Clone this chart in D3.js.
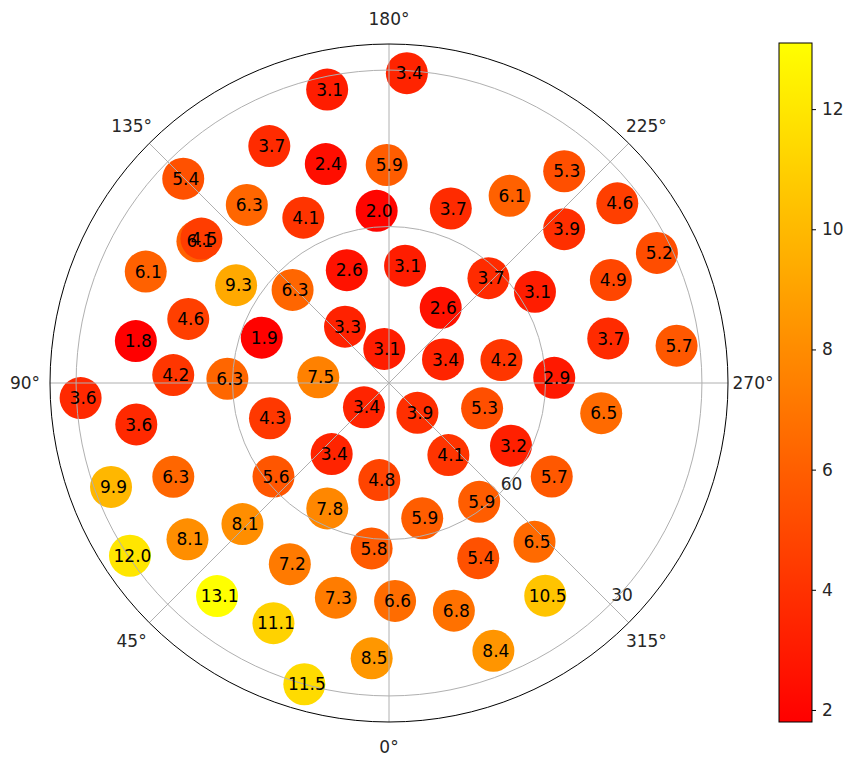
<!DOCTYPE html>
<html>
<head>
<meta charset="utf-8">
<script src="https://cdn.jsdelivr.net/npm/d3@7"></script>
<style>
  html, body { margin: 0; padding: 0; background: #fff; }
  svg { display: block; font-family: "DejaVu Sans", sans-serif; }
</style>
</head>
<body>
<svg id="chart" width="848" height="757"></svg>
<script>
// Sky positions (azimuth in degrees, elevation in degrees) and the measured value at each
const azimuth = [
  183.3, 168.1, 153.2, 163.9, 179.4, 134.8, 141.4, 152.6, 175.9, 199.5,
  212.8, 219.6, 231.8, 228.7, 244.1, 126.5, 127.6, 114.6, 122.6, 159.5,
  187.8, 223.5, 238.0, 245.1, 134.0, 214.5, 107.7, 99.4, 109.6, 142.0,
  172.1, 246.4, 258.5, 258.5, 262.6, 92.1, 91.5, 94.6, 268.2, 87.2,
  80.7, 73.5, 45.8, 316.4, 285.2, 278.1, 297.2, 38.9, 320.5, 5.7,
  299.9, 69.5, 66.5, 51.0, 26.2, 346.2, 322.8, 52.2, 46.1, 56.3,
  6.0, 28.7, 333.0, 317.5, 38.9, 13.9, 358.4, 344.1, 323.7, 25.7,
  3.6, 338.7, 15.7
];
const elevation = [
  30.5, 32.5, 39.1, 46.3, 48.2, 34.4, 46.3, 54.3, 56.9, 54.5,
  47.3, 37.3, 34.3, 45.3, 32.9, 44.3, 44.6, 38.7, 55.2, 66.9,
  67.3, 62.3, 57.0, 43.1, 64.3, 72.5, 49.6, 40.8, 64.1, 76.3,
  83.4, 78.7, 68.0, 47.1, 34.4, 48.6, 59.0, 76.4, 58.3, 30.8,
  40.9, 66.2, 83.3, 82.1, 71.5, 48.9, 63.7, 72.5, 72.1, 71.3,
  54.0, 33.1, 44.9, 61.5, 63.2, 63.3, 61.4, 41.1, 51.0, 30.3,
  58.1, 50.4, 52.3, 48.7, 37.5, 47.6, 48.2, 44.6, 39.4, 38.9,
  37.1, 34.9, 30.0
];
const values = [
  3.4, 3.1, 3.7, 2.4, 5.9, 5.4, 6.3, 4.1, 2.0, 3.7,
  6.1, 5.3, 4.6, 3.9, 5.2, 6.1, 4.5, 6.1, 9.3, 2.6,
  3.1, 3.7, 3.1, 4.9, 6.3, 2.6, 4.6, 1.8, 1.9, 3.3,
  3.1, 3.4, 4.2, 3.7, 5.7, 4.2, 6.3, 7.5, 2.9, 3.6,
  3.6, 4.3, 3.4, 3.9, 5.3, 6.5, 3.2, 3.4, 4.1, 4.8,
  5.7, 9.9, 6.3, 5.6, 7.8, 5.9, 5.9, 8.1, 8.1, 12.0,
  5.8, 7.2, 5.4, 6.5, 13.1, 7.3, 6.6, 6.8, 10.5, 11.1,
  8.5, 8.4, 11.5
];

// Axis ticks
const thetaTicks = [0, 45, 90, 135, 180, 225, 270, 315];
const radialTicks = [60, 30];
const radialLimits = [90, 25];
const radialLabelAngle = 315;
const colorTicks = [2, 4, 6, 8, 10, 12];

// Layout
const cx = 389, cy = 383, R = 339;
const markerRadius = 21;
const fontSize = 17;

const svg = d3.select("#chart");

// Elevation 90 sits at the centre; lower elevations move outwards
const r = d3.scaleLinear().domain(radialLimits).range([0, R]);

// Azimuth 0 at the bottom, increasing clockwise (90 left, 180 top, 270 right)
const toXY = (az, rad) => {
  const p = d3.pointRadial((az + 180) * Math.PI / 180, rad);
  return [cx + p[0], cy + p[1]];
};

// "autumn" colour map: red -> yellow
const vmin = d3.min(values), vmax = d3.max(values);
const autumn = t => d3.rgb(255, Math.round(255 * t), 0).toString();
const color = d3.scaleSequential(autumn).domain([vmin, vmax]);

const points = values.map((v, i) => ({ az: azimuth[i], el: elevation[i], v }));

// Markers
const gMarks = svg.append("g");
gMarks.selectAll("circle")
  .data(points)
  .join("circle")
  .attr("cx", d => toXY(d.az, r(d.el))[0])
  .attr("cy", d => toXY(d.az, r(d.el))[1])
  .attr("r", markerRadius)
  .attr("fill", d => color(d.v));

// Grid: rings and spokes on top of the markers
const gGrid = svg.append("g")
  .attr("fill", "none")
  .attr("stroke", "#b0b0b0")
  .attr("stroke-width", 1);

gGrid.selectAll("circle")
  .data(radialTicks)
  .join("circle")
  .attr("cx", cx).attr("cy", cy)
  .attr("r", d => r(d));

gGrid.selectAll("line")
  .data(thetaTicks)
  .join("line")
  .attr("x1", cx).attr("y1", cy)
  .attr("x2", d => toXY(d, R)[0])
  .attr("y2", d => toXY(d, R)[1]);

// Outer frame
svg.append("circle")
  .attr("cx", cx).attr("cy", cy).attr("r", R)
  .attr("fill", "none")
  .attr("stroke", "#000")
  .attr("stroke-width", 1);

// Value labels inside the markers
svg.append("g")
  .selectAll("text")
  .data(points)
  .join("text")
  .attr("x", d => toXY(d.az, r(d.el))[0] + 2.5)
  .attr("y", d => toXY(d.az, r(d.el))[1])
  .attr("dy", "0.36em")
  .attr("text-anchor", "middle")
  .attr("font-size", fontSize)
  .attr("fill", "#000")
  .text(d => d.v.toFixed(1));

// Angle labels
svg.append("g")
  .selectAll("text")
  .data(thetaTicks)
  .join("text")
  .attr("x", d => toXY(d, R + 25)[0])
  .attr("y", d => toXY(d, R + 25)[1])
  .attr("dy", "0.36em")
  .attr("text-anchor", "middle")
  .attr("font-size", fontSize)
  .attr("fill", "#262626")
  .text(d => d + "°");

// Radial labels along the 315° spoke
svg.append("g")
  .selectAll("text")
  .data(radialTicks)
  .join("text")
  .attr("x", d => toXY(radialLabelAngle, r(d))[0] + 1)
  .attr("y", d => toXY(radialLabelAngle, r(d))[1] - 3.5)
  .attr("text-anchor", "start")
  .attr("font-size", fontSize)
  .attr("fill", "#262626")
  .text(d => d);

// Colour bar
const cbX = 779, cbW = 33, cbTop = 43, cbBottom = 722;
const cbScale = d3.scaleLinear().domain([vmin, vmax]).range([cbBottom, cbTop]);

const defs = svg.append("defs");
const grad = defs.append("linearGradient")
  .attr("id", "cbGrad")
  .attr("x1", 0).attr("y1", 1).attr("x2", 0).attr("y2", 0);
grad.selectAll("stop")
  .data(d3.range(0, 1.0001, 0.05))
  .join("stop")
  .attr("offset", t => t)
  .attr("stop-color", t => autumn(t));

svg.append("rect")
  .attr("x", cbX).attr("y", cbTop)
  .attr("width", cbW).attr("height", cbBottom - cbTop)
  .attr("fill", "url(#cbGrad)")
  .attr("stroke", "#000")
  .attr("stroke-width", 1);

const cbAxis = svg.append("g")
  .attr("transform", `translate(${cbX + cbW},0)`)
  .call(d3.axisRight(cbScale).tickValues(colorTicks).tickSize(4).tickPadding(6).tickFormat(d3.format("d")));
cbAxis.select(".domain").remove();
cbAxis.selectAll("text")
  .attr("font-size", fontSize)
  .attr("font-family", "DejaVu Sans, sans-serif")
  .attr("fill", "#262626");
cbAxis.selectAll("line").attr("stroke", "#000");
</script>
</body>
</html>
